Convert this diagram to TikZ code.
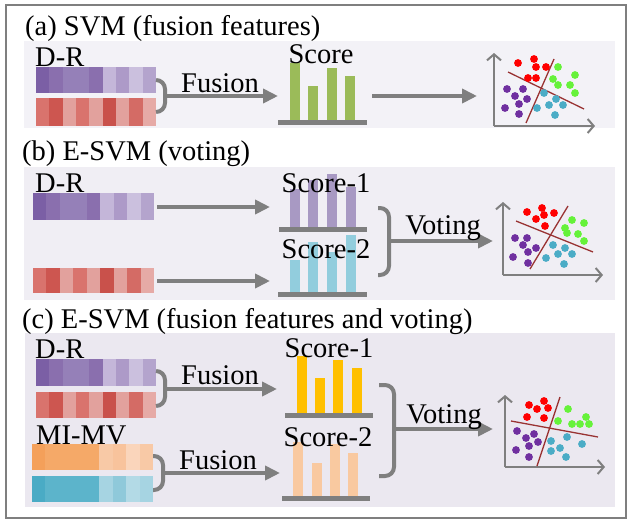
\documentclass[tikz,border=0pt]{standalone}
\usepackage{fontspec}
\setmainfont{Liberation Serif}
\usetikzlibrary{arrows.meta}
% strip colours
\definecolor{pa}{HTML}{7B5FA5}\definecolor{pb}{HTML}{8A6FAE}\definecolor{pc}{HTML}{9580B8}
\definecolor{pd}{HTML}{C4B6D9}\definecolor{pe}{HTML}{AD9AC8}\definecolor{pf}{HTML}{CBC0DE}\definecolor{pg}{HTML}{B4A4CD}
\definecolor{ra}{HTML}{D9736D}\definecolor{rb}{HTML}{CD5650}\definecolor{rc}{HTML}{E2A19D}\definecolor{rd}{HTML}{C9514B}
\definecolor{re}{HTML}{D46B65}\definecolor{rf}{HTML}{E6AAA6}
\definecolor{oa}{HTML}{F4A05A}\definecolor{ob}{HTML}{F5A968}\definecolor{oc}{HTML}{F8C9A6}\definecolor{od}{HTML}{F8C39C}
\definecolor{oe}{HTML}{FAD5BB}
\definecolor{ca}{HTML}{4AABC5}\definecolor{cb}{HTML}{5CB4CB}\definecolor{cc}{HTML}{A6D4E2}\definecolor{cd}{HTML}{8FC9DA}
\definecolor{ce}{HTML}{B3DAE6}
% other colours
\definecolor{lineg}{HTML}{7F7F7F}
\definecolor{bargreen}{HTML}{9BBB59}
\definecolor{barpurple}{HTML}{A899C3}
\definecolor{barcyan}{HTML}{92CDDD}
\definecolor{bargold}{HTML}{FFC000}
\definecolor{barpeach}{HTML}{F9C9A0}
\definecolor{dotred}{HTML}{FF0000}
\definecolor{dotgreen}{HTML}{66F23A}
\definecolor{dotpurple}{HTML}{7030A0}
\definecolor{dotcyan}{HTML}{4BACC6}
\definecolor{sepline}{HTML}{993333}
\definecolor{bga}{HTML}{F3F2F7}
\definecolor{bgb}{HTML}{F0EEF4}
\definecolor{bgc}{HTML}{EBE8F0}
\newcommand{\cellstrip}[5]{%
  \foreach \cc [count=\ii from 0] in {#5}{%
    \fill[\cc] ({#1+\ii*#3/9},#2) rectangle ({#1+(\ii+1)*#3/9+0.3},{#2+#4});}}
\newcommand{\dotset}[2]{\foreach \px/\py in {#2}{\fill[#1] (\px,\py) circle (3.9);}}
\begin{document}
\begin{tikzpicture}[x=1pt,y=-1pt,
  txt/.style={inner sep=0pt,anchor=base,font=\fontsize{28.5}{30}\selectfont},
  ltxt/.style={txt,anchor=base west},
  flow/.style={draw=lineg,line width=4pt,-{Triangle[length=15pt,width=14pt]}},
  brace/.style={draw=lineg,line width=4pt,rounded corners=9pt},
  axis/.style={draw=lineg,line width=2pt,-{Straight Barb[length=6pt,width=14pt]}},
  base/.style={draw=lineg,line width=5pt},
  sep/.style={draw=sepline,line width=1.3pt}]
\useasboundingbox (0,0) rectangle (628,522);
% outer frame
\draw[lineg,line width=2.5pt] (6,5) rectangle (626,518);
% panel backgrounds
\fill[bga] (24,41) rectangle (615,128);
\fill[bgb] (24,167) rectangle (615,300);
\fill[bgc] (25,333) rectangle (615,507);
% titles
\node[ltxt] (ta) at (25,35) {(a) SVM (fusion features)};
\node[ltxt] (tb) at (22,160) {(b) E-SVM (voting)};
\node[ltxt] (tc) at (22,328) {(c) E-SVM (fusion features and voting)};

%% ---------------- panel (a)
\node[ltxt] (dra) at (35,66) {D-R};
\cellstrip{36}{67}{120}{26}{pa,pb,pc,pc,pb,pd,pe,pf,pg}
\cellstrip{36}{98}{120}{28}{ra,rb,rc,ra,rc,rd,rc,re,rf}
\coordinate (ba1) at (156,80);
\coordinate (ba2) at (156,112);
\coordinate (bam) at (165,96);
\draw[brace] (ba1) -- (165,80) -- (165,112) -- (ba2);
\coordinate (fa) at (278,96);
\draw[flow] (bam) -- (fa);
\node[txt] (fusa) at (220,92) {Fusion};
% score bars
\fill[bargreen] (290,63) rectangle (300,120);
\fill[bargreen] (308,86) rectangle (318,120);
\fill[bargreen] (327,68) rectangle (337,120);
\fill[bargreen] (345,76) rectangle (355,120);
\coordinate (sa1) at (278,122.5);
\coordinate (sa2) at (367,122.5);
\draw[base] (sa1) -- (sa2);
\node[txt] (score) at (321,63) {Score};
\coordinate (a1) at (372,96);
\coordinate (a2) at (477,96);
\draw[flow] (a1) -- (a2);
% scatter (a)
\coordinate (oa) at (494,126);
\coordinate (ya) at (494,53);
\coordinate (xa) at (595,126);
\draw[axis] (oa) -- (ya);
\draw[axis] (oa) -- (xa);
\draw[sep] (508,72) -- (584,109);
\draw[sep] (554,59) -- (526,123);
\dotset{dotred}{518/63,534/59,536/67,546/67,528/78,536/78}
\dotset{dotgreen}{558/67,575/75,553/79,558/85,570/85,575/93}
\dotset{dotpurple}{507/89,523/89,515/96,527/99,519/104,505/108,519/114}
\dotset{dotcyan}{544/93,556/99,563/105,549/105,537/108,555/115}

%% ---------------- panel (b)
\node[ltxt] (drb) at (35,192) {D-R};
\cellstrip{33}{193}{121}{27}{pa,pb,pc,pc,pb,pd,pe,pf,pg}
\cellstrip{33}{268}{121}{25}{ra,rb,rc,ra,rc,rd,rc,re,rf}
\coordinate (b1s) at (157,207);
\coordinate (b1e) at (270,207);
\draw[flow] (b1s) -- (b1e);
\coordinate (b2s) at (157,281);
\coordinate (b2e) at (270,281);
\draw[flow] (b2s) -- (b2e);
\fill[barpurple] (290,189) rectangle (300,227);
\fill[barpurple] (308,180) rectangle (318,227);
\fill[barpurple] (327,174) rectangle (337,227);
\fill[barpurple] (346,187) rectangle (356,227);
\coordinate (sb1) at (279,229);
\coordinate (sb2) at (367,229);
\draw[base] (sb1) -- (sb2);
\fill[barcyan] (290,260) rectangle (300,292);
\fill[barcyan] (308,242) rectangle (318,292);
\fill[barcyan] (327,252) rectangle (337,292);
\fill[barcyan] (346,235) rectangle (356,292);
\coordinate (sb3) at (278,294);
\coordinate (sb4) at (367,294);
\draw[base] (sb3) -- (sb4);
\node[txt] (s1b) at (326,192) {Score-1};
\node[txt] (s2b) at (326,258) {Score-2};
\coordinate (vb1) at (378,208);
\coordinate (vb2) at (378,275);
\coordinate (vbm) at (389,241);
\draw[brace] (vb1) -- (389,208) -- (389,275) -- (vb2);
\coordinate (vbe) at (493,241);
\draw[flow] (vbm) -- (vbe);
\node[txt] (votb) at (443,234) {Voting};
% scatter (b)
\coordinate (ob) at (503,275);
\coordinate (yb) at (503,202);
\coordinate (xb) at (603,275);
\draw[axis] (ob) -- (yb);
\draw[axis] (ob) -- (xb);
\draw[sep] (516,221) -- (593,252);
\draw[sep] (568,206) -- (530,269);
\dotset{dotred}{527/212,542/208,544/215,554/213,536/219,545/226}
\dotset{dotgreen}{572/220,584/223,565/228,567/233,578/234,584/241}
\dotset{dotpurple}{515/238,527/238,523/245,536/248,528/252,513/257,528/263}
\dotset{dotcyan}{553/245,565/248,558/254,572/254,546/258,564/264}

%% ---------------- panel (c)
\node[ltxt] (drc) at (35,358) {D-R};
\cellstrip{36}{359}{120}{27}{pa,pb,pc,pc,pb,pd,pe,pf,pg}
\cellstrip{36}{392}{120}{26}{ra,rb,rc,ra,rc,rd,rc,re,rf}
\coordinate (bc1) at (156,371);
\coordinate (bc2) at (156,406);
\coordinate (bcm) at (165,389);
\draw[brace] (bc1) -- (165,371) -- (165,406) -- (bc2);
\coordinate (fc1) at (277,389);
\draw[flow] (bcm) -- (fc1);
\node[txt] (fusc1) at (220,384) {Fusion};
\node[ltxt] (mimv) at (36,444.5) {MI-MV};
\cellstrip{32}{444}{121}{26}{oa,ob,ob,ob,ob,oc,od,oe,oc}
\cellstrip{32}{476}{121}{26}{ca,cb,cb,cb,cb,cc,cd,ce,cc}
\coordinate (bd1) at (153,456);
\coordinate (bd2) at (153,490);
\coordinate (bdm) at (163,473);
\draw[brace] (bd1) -- (163,456) -- (163,490) -- (bd2);
\coordinate (fc2) at (280,473);
\draw[flow] (bdm) -- (fc2);
\node[txt] (fusc2) at (218,469) {Fusion};
\fill[bargold] (297,356) rectangle (307,413);
\fill[bargold] (315,378) rectangle (325,413);
\fill[bargold] (333,360) rectangle (343,413);
\fill[bargold] (352,368) rectangle (362,413);
\coordinate (sc1) at (285,415.5);
\coordinate (sc2) at (373,415.5);
\draw[base] (sc1) -- (sc2);
\fill[barpeach] (293,442) rectangle (303,496);
\fill[barpeach] (312,463) rectangle (322,496);
\fill[barpeach] (330,444) rectangle (340,496);
\fill[barpeach] (348,453) rectangle (358,496);
\coordinate (sc3) at (282,498.5);
\coordinate (sc4) at (370,498.5);
\draw[base] (sc3) -- (sc4);
\node[txt] (s1c) at (329,357) {Score-1};
\node[txt] (s2c) at (328,446) {Score-2};
\coordinate (vc1) at (379,385);
\coordinate (vc2) at (379,476);
\coordinate (vcm) at (394,429);
\draw[brace] (vc1) -- (394,385) -- (394,476) -- (vc2);
\coordinate (vce) at (493,429);
\draw[flow] (vcm) -- (vce);
\node[txt] (votc) at (444,423) {Voting};
% scatter (c)
\coordinate (oc) at (505,467);
\coordinate (yc) at (505,395);
\coordinate (xc) at (605,467);
\draw[axis] (oc) -- (yc);
\draw[axis] (oc) -- (xc);
\draw[sep] (511,421) -- (598,437);
\draw[sep] (560,397) -- (537,466);
\dotset{dotred}{529/405,544/401,537/409,548/408,527/417,544/418}
\dotset{dotgreen}{568/409,586/417,558/421,572/424,580/424,589/424}
\dotset{dotpurple}{517/431,526/438,534/434,538/442,529/446,516/450,529/457}
\dotset{dotcyan}{551/441,567/437,582/444,560/448,551/451,566/457}
\end{tikzpicture}
\end{document}
